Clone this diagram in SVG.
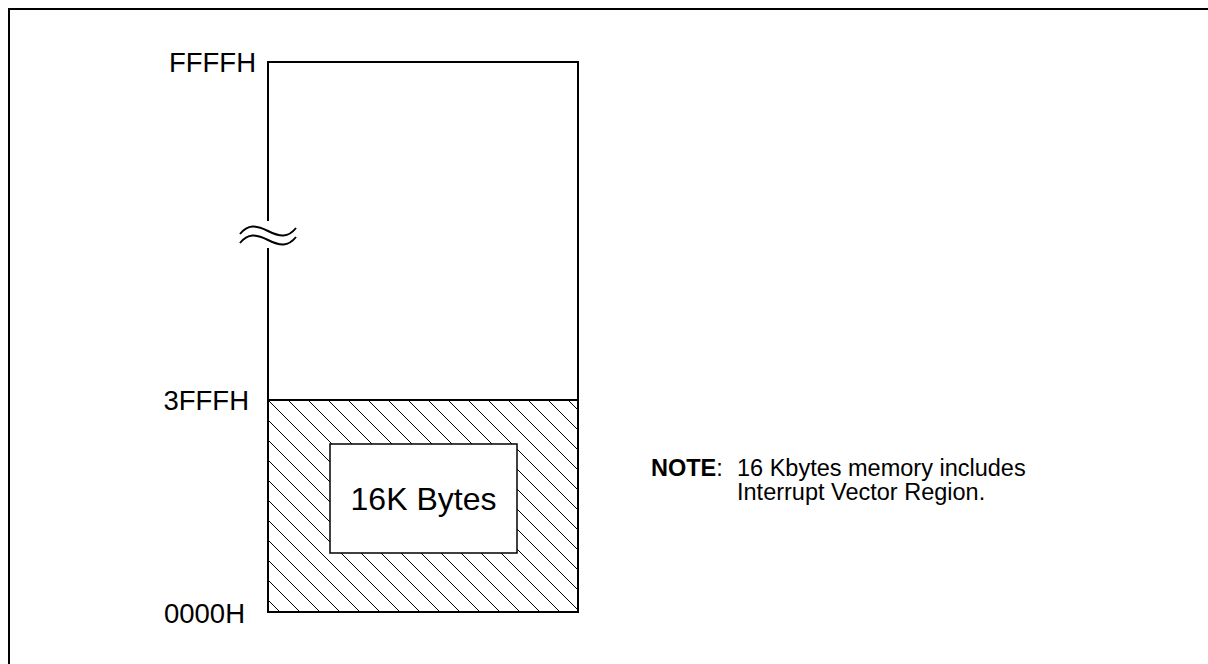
<svg xmlns="http://www.w3.org/2000/svg" width="1208" height="664" viewBox="0 0 1208 664">
<style>
.lbl{font-family:"Liberation Sans",Arial,sans-serif;font-size:27.5px;fill:#000}
.big{font-family:"Liberation Sans",Arial,sans-serif;font-size:32px;fill:#000}
.note{font-family:"Liberation Sans",Arial,sans-serif;font-size:23.5px;fill:#000}
.ln{fill:none;stroke:#000;stroke-width:2}
</style>
<defs>
<pattern id="hatch" patternUnits="userSpaceOnUse" x="268" y="400" width="20" height="20">
<path d="M-5,-5 L25,25 M-5,15 L5,25 M15,-5 L25,5" stroke="#000" stroke-width="1.3" shape-rendering="crispEdges"/>
</pattern>
</defs>
<rect x="0" y="0" width="1208" height="664" fill="#fff"/>
<rect x="9" y="9" width="1400" height="800" fill="none" stroke="#000" stroke-width="2"/>
<g id="upper-region">
<path class="ln" d="M268,221 L268,62 L578,62 L578,400"/>
<path class="ln" d="M268,248 L268,400"/>
<path class="ln" d="M240,234 C248,224 256,225 268,231 S288,238 296,228"/>
<path class="ln" d="M240,243 C248,233 256,234 268,240 S288,247 296,237"/>
<text class="lbl" x="256" y="72" text-anchor="end">FFFFH</text>
</g>
<g id="lower-region">
<rect x="268" y="400" width="310" height="212" fill="url(#hatch)" stroke="#000" stroke-width="2"/>
<text class="lbl" x="249" y="410" text-anchor="end">3FFFH</text>
<text class="lbl" x="245" y="623" text-anchor="end">0000H</text>
</g>
<g id="box-16k">
<rect x="330" y="444" width="187" height="109" fill="#fff" stroke="#000" stroke-width="1.5"/>
<text class="big" x="423.5" y="510" text-anchor="middle">16K Bytes</text>
</g>
<g id="note">
<text class="note" x="651" y="476"><tspan font-weight="bold">NOTE</tspan>:</text>
<text class="note" x="737" y="476">16 Kbytes memory includes</text>
<text class="note" x="737" y="500">Interrupt Vector Region.</text>
</g>
<g id="connectors"></g>
</svg>
